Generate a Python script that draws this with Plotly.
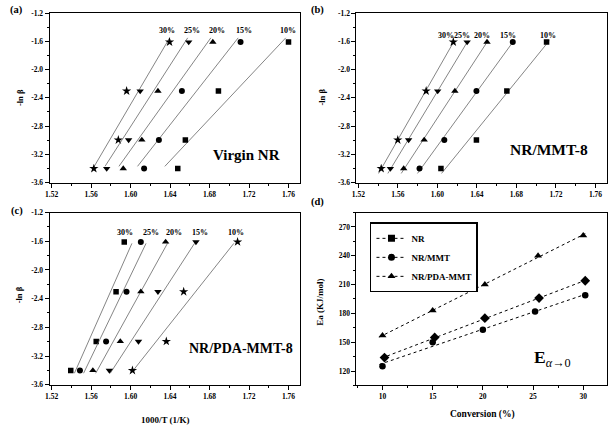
import numpy as np
import plotly.graph_objects as go

# ---------------- data ----------------
neg_ln_beta = [-3.401, -2.996, -2.303, -1.609]   # -ln(beta) for beta = 30, 20, 10, 5
conv_labels = ["30%", "25%", "20%", "15%", "10%"]

# panel (a) Virgin NR : 1000/T for each conversion
a_30 = [1.5628, 1.5876, 1.5960, 1.6395]
a_25 = [1.5758, 1.5980, 1.6097, 1.6589]
a_20 = [1.5926, 1.6114, 1.6277, 1.6833]
a_15 = [1.6137, 1.6287, 1.6520, 1.7114]
a_10 = [1.6478, 1.6555, 1.6890, 1.7600]

# panel (b) NR/MMT-8
b_30 = [1.5431, 1.5599, 1.5886, 1.6161]
b_25 = [1.5524, 1.5709, 1.6003, 1.6301]
b_20 = [1.5659, 1.5866, 1.6177, 1.6502]
b_15 = [1.5819, 1.6070, 1.6395, 1.6763]
b_10 = [1.6036, 1.6395, 1.6703, 1.7105]

# panel (c) NR/PDA-MMT-8
c_30 = [1.5394, 1.5652, 1.5853, 1.5936]
c_25 = [1.5487, 1.5752, 1.5959, 1.6104]
c_20 = [1.5618, 1.5896, 1.6104, 1.6355]
c_15 = [1.5785, 1.6080, 1.6277, 1.6662]
c_10 = [1.6019, 1.6362, 1.6538, 1.7084]

# y-extent of the fitted lines in each panel
a_fit_span = [-3.37, -1.55]
b_fit_span = [-3.47, -1.59]
c_fit_span = [-3.44, -1.63]

# conversion-label positions (x for 30,25,20,15,10 %, then y)
a_label_x = [1.6368, 1.6620, 1.6871, 1.7148, 1.7593]
b_label_x = [1.6084, 1.6254, 1.6455, 1.6710, 1.7115]
c_label_x = [1.5943, 1.6210, 1.6438, 1.6699, 1.7063]
label_y = [-1.442, -1.511, -1.481]

# panel (d) activation energy
conv_nr = [10.2, 15.2, 20.2, 25.6, 30.2]
ea_nr = [134, 155, 175, 196, 214]
conv_mmt = [10.0, 15.0, 20.0, 25.2, 30.2]
ea_mmt = [125, 150, 163, 182, 199]
conv_pda = [10.0, 15.0, 20.2, 25.5, 30.0]
ea_pda = [157, 183, 210, 240, 261]

# ticks
x_ticks = [1.52, 1.56, 1.60, 1.64, 1.68, 1.72, 1.76]
y_ticks = [-3.6, -3.2, -2.8, -2.4, -2.0, -1.6, -1.2]
y_ticktext = ["-3.6", "-3.2", "-2.8", "-2.4", "-2.0", "-1.6", "-1.2"]
d_xticks = [10, 15, 20, 25, 30]
d_yticks = [120, 150, 180, 210, 240, 270]

# ---------------- figure ----------------
SERIF = "Liberation Serif"
fig = go.Figure()

msize = {"star": 7, "square": 5.5, "circle": 6, "triangle-up": 6.5, "triangle-down": 6.5, "diamond": 7}

panels = [
    ("x", "y", [a_30, a_25, a_20, a_15, a_10], ["star", "triangle-down", "triangle-up", "circle", "square"],
     a_fit_span, a_label_x, label_y[0]),
    ("x2", "y2", [b_30, b_25, b_20, b_15, b_10], ["star", "triangle-down", "triangle-up", "circle", "square"],
     b_fit_span, b_label_x, label_y[1]),
    ("x3", "y3", [c_30, c_25, c_20, c_15, c_10], ["square", "circle", "triangle-up", "triangle-down", "star"],
     c_fit_span, c_label_x, label_y[2]),
]
annotations = []
for xa, ya, series, symbols, span, labx, laby in panels:
    for xs, sym, lab, lx in zip(series, symbols, conv_labels, labx):
        m, b = np.polyfit(xs, neg_ln_beta, 1)
        ys_line = np.array(span)
        xs_line = (ys_line - b) / m
        fig.add_trace(go.Scatter(x=xs_line, y=ys_line, xaxis=xa, yaxis=ya, mode="lines",
                                 line=dict(color="#666666", width=0.8), showlegend=False, hoverinfo="skip"))
        fig.add_trace(go.Scatter(x=xs, y=neg_ln_beta, xaxis=xa, yaxis=ya, mode="markers",
                                 marker=dict(symbol=sym, color="black", size=msize[sym], line=dict(width=0)),
                                 showlegend=False))
        annotations.append(dict(x=lx, y=laby, xref=xa, yref=ya, text="<b>%s</b>" % lab,
                                xanchor="center", yanchor="middle",
                                showarrow=False, font=dict(family=SERIF, size=8, color="black")))

# panel (d)
d_series = [
    ("NR", conv_nr, ea_nr, "diamond", "square"),
    ("NR/MMT", conv_mmt, ea_mmt, "circle", "circle"),
    ("NR/PDA-MMT", conv_pda, ea_pda, "triangle-up", "triangle-up"),
]
for name, xs, ys, sym, legsym in d_series:
    m, b = np.polyfit(xs, ys, 1)
    xl = np.array([min(xs) - 0.3, max(xs) + 0.2])
    fig.add_trace(go.Scatter(x=xl, y=m * xl + b, xaxis="x4", yaxis="y4", mode="lines",
                             line=dict(color="black", width=1, dash="dot"), showlegend=False, hoverinfo="skip"))
    fig.add_trace(go.Scatter(x=xs, y=ys, xaxis="x4", yaxis="y4", mode="markers",
                             marker=dict(symbol=sym, color="black", size=msize[sym] + 0.5, line=dict(width=0)),
                             showlegend=False))
    fig.add_trace(go.Scatter(x=[None], y=[None], xaxis="x4", yaxis="y4", mode="lines+markers", name=name,
                             line=dict(color="black", width=1, dash="dot"),
                             marker=dict(symbol=legsym, color="black", size=7)))

tickfont = dict(family=SERIF, size=7.5, color="black", weight="bold")
left_dom = [45 / 610, 297.8 / 610]
right_dom = [354.3 / 610, 607.3 / 610]
top_dom = [1 - 182.7 / 429, 1 - 9.3 / 429]
bot_dom = [1 - 388.7 / 429, 1 - 212.5 / 429]

common = dict(ticks="outside", ticklen=4, tickcolor="black", showline=True, linecolor="black", linewidth=1,
              mirror=True, showgrid=False, zeroline=False, tickfont=tickfont)

def xax(dom, anchor):
    return dict(domain=dom, anchor=anchor, range=[1.518, 1.772], tickvals=x_ticks, tickformat=".2f",
                minor=dict(ticks="outside", ticklen=2, dtick=0.02, tick0=1.52, tickcolor="black"), **common)

def yax(dom, anchor):
    return dict(domain=dom, anchor=anchor, range=[-3.61, -1.2], tickvals=y_ticks, ticktext=y_ticktext,
                minor=dict(ticks="outside", ticklen=2, dtick=0.2, tick0=-1.2, tickcolor="black"), **common)

fig.update_layout(
    width=610, height=429, margin=dict(l=0, r=0, t=0, b=0),
    paper_bgcolor="white", plot_bgcolor="white",
    xaxis=xax(left_dom, "y"), yaxis=yax(top_dom, "x"),
    xaxis2=xax(right_dom, "y2"), yaxis2=yax(top_dom, "x2"),
    xaxis3=xax(left_dom, "y3"), yaxis3=yax(bot_dom, "x3"),
    xaxis4=dict(domain=right_dom, anchor="y4", range=[7.4, 32.4], tickvals=d_xticks,
                minor=dict(ticks="outside", ticklen=2, dtick=2.5, tick0=10, tickcolor="black"), **common),
    yaxis4=dict(domain=bot_dom, anchor="x4", range=[105, 285], tickvals=d_yticks,
                minor=dict(ticks="outside", ticklen=2, dtick=15, tick0=120, tickcolor="black"), **common),
    showlegend=True,
    legend=dict(x=368 / 610, y=1 - 222.5 / 429, xanchor="left", yanchor="top",
                bgcolor="white", bordercolor="black", borderwidth=1.5,
                font=dict(family=SERIF, size=9, color="black", weight="bold"),
                tracegroupgap=0, itemwidth=30),
)

def ptext(x, y, text, size=9, angle=0, bold=True):
    annotations.append(dict(x=x / 610, y=1 - y / 429, xref="paper", yref="paper",
                            xanchor="center", yanchor="middle",
                            text=("<b>%s</b>" % text) if bold else text, showarrow=False, textangle=angle,
                            font=dict(family=SERIF, size=size, color="black")))

ptext(11.7, 6, "(a)", 10.5)
ptext(315, 6, "(b)", 10.5)
ptext(11.7, 211, "(c)", 10.5)
ptext(315, 202, "(d)", 10.5)
ptext(15, 95, "-ln β", 8.5, -90)
ptext(320, 95, "-ln β", 8.5, -90)
ptext(15, 296, "-ln β", 8.5, -90)
ptext(318, 304, "Ea (KJ/mol)", 9, -90)
ptext(161.7, 424, "1000/T (1/K)", 9)
ptext(481.7, 418, "Conversion (%)", 9.5)
ptext(243, 154, "Virgin NR", 15)
ptext(548, 148, "NR/MMT-8", 15.5)
ptext(238, 351, "NR/PDA-MMT-8", 14)
ptext(552, 361, "<b>E</b><sub><i>α</i>→0</sub>", 17.5, bold=False)

fig.update_layout(annotations=annotations)

fig.write_html("out.html", config={"displayModeBar": False},
               post_script="document.body.style.margin='0px';")
